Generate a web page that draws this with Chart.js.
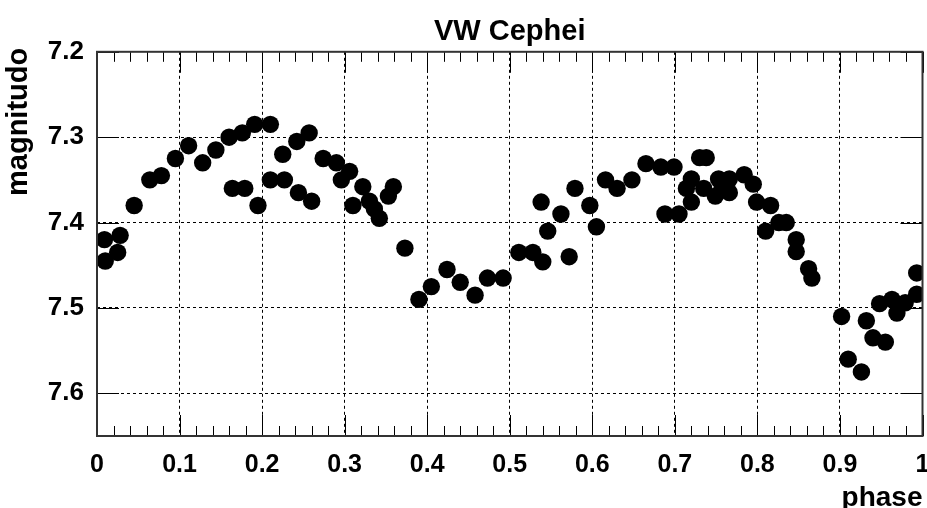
<!DOCTYPE html>
<html>
<head>
<meta charset="utf-8">
<script src="https://cdn.jsdelivr.net/npm/chart.js@4/dist/chart.umd.min.js"></script>
<style>
  html, body { margin: 0; padding: 0; background: #fff; }
  #wrap { width: 927px; height: 508px; }
</style>
</head>
<body>
<div id="wrap"><canvas id="lightCurve" width="927" height="508"></canvas></div>
<script>
// phase / magnitude
const phase = [
  0.009, 0.010, 0.025, 0.028, 0.045, 0.064, 0.078, 0.095, 0.111, 0.128,
  0.144, 0.160, 0.164, 0.176, 0.179, 0.191, 0.195, 0.210, 0.210, 0.225,
  0.227, 0.242, 0.244, 0.257, 0.260, 0.274, 0.290, 0.296, 0.306, 0.310,
  0.322, 0.330, 0.336, 0.342, 0.353, 0.359, 0.373, 0.390, 0.405, 0.424,
  0.440, 0.458, 0.473, 0.492, 0.511, 0.528, 0.538, 0.540, 0.546, 0.562,
  0.572, 0.579, 0.597, 0.605, 0.616, 0.630, 0.648, 0.665, 0.683, 0.688,
  0.699, 0.705, 0.714, 0.720, 0.720, 0.730, 0.738, 0.735, 0.749, 0.753,
  0.757, 0.766, 0.766, 0.784, 0.795, 0.799, 0.810, 0.816, 0.826, 0.835,
  0.847, 0.847, 0.862, 0.866, 0.902, 0.910, 0.926, 0.932, 0.940, 0.948,
  0.955, 0.963, 0.969, 0.979, 0.993, 0.993
];
const magnitude = [
  7.420, 7.445, 7.435, 7.415, 7.380, 7.350, 7.345, 7.325, 7.310, 7.330,
  7.315, 7.300, 7.360, 7.295, 7.360, 7.285, 7.380, 7.285, 7.350, 7.320,
  7.350, 7.305, 7.365, 7.295, 7.375, 7.325, 7.330, 7.350, 7.340, 7.380,
  7.358, 7.375, 7.384, 7.395, 7.369, 7.358, 7.430, 7.490, 7.475, 7.455,
  7.470, 7.485, 7.465, 7.465, 7.435, 7.435, 7.376, 7.446, 7.410, 7.390,
  7.440, 7.360, 7.380, 7.405, 7.350, 7.360, 7.350, 7.331, 7.335, 7.390,
  7.335, 7.390, 7.360, 7.349, 7.376, 7.324, 7.324, 7.360, 7.369, 7.349,
  7.361, 7.349, 7.365, 7.344, 7.355, 7.376, 7.410, 7.380, 7.400, 7.400,
  7.420, 7.434, 7.454, 7.465, 7.510, 7.560, 7.575, 7.515, 7.535, 7.495,
  7.540, 7.490, 7.506, 7.494, 7.484, 7.459
];
const xTicks = [0, 0.1, 0.2, 0.3, 0.4, 0.5, 0.6, 0.7, 0.8, 0.9, 1];
const xTickLabels = ['0', '0.1', '0.2', '0.3', '0.4', '0.5', '0.6', '0.7', '0.8', '0.9', '1'];
const yTicks = [7.2, 7.3, 7.4, 7.5, 7.6];
const yTickLabels = ['7.2', '7.3', '7.4', '7.5', '7.6'];
const xMinor = 0.02;
const yTitle = 'magnitudo';

const FONT = 'Liberation Sans, Arial, sans-serif';
const points = phase.map((p, i) => ({ x: p, y: magnitude[i] }));

// frame + inward tick marks, gnuplot style; y title drawn here because
// the reversed scale flips chart.js's title alignment
const frameTicks = {
  id: 'frameTicks',
  afterDraw(chart) {
    const c = chart.ctx, a = chart.chartArea;
    const xs = chart.scales.x, ys = chart.scales.y;
    c.save();
    c.strokeStyle = '#000';
    c.lineWidth = 1;
    c.beginPath();
    for (let k = 0; k <= 50; k++) {
      const v = k * xMinor;
      const px = Math.round(xs.getPixelForValue(v)) + 0.5;
      const len = (k % 5 === 0) ? 21 : 10;
      c.moveTo(px, a.bottom); c.lineTo(px, a.bottom - len);
      c.moveTo(px, a.top); c.lineTo(px, a.top + len);
    }
    yTicks.forEach(v => {
      const py = Math.round(ys.getPixelForValue(v)) + 0.5;
      c.moveTo(a.left, py); c.lineTo(a.left + 22, py);
      c.moveTo(a.right, py); c.lineTo(a.right - 22, py);
    });
    c.stroke();
    c.strokeStyle = '#333';
    c.lineWidth = 2;
    c.strokeRect(a.left, a.top, a.right - a.left, a.bottom - a.top);

    c.translate(19, a.top - 4);
    c.rotate(-Math.PI / 2);
    c.fillStyle = '#000';
    c.font = 'bold 29px ' + FONT;
    c.textAlign = 'right';
    c.textBaseline = 'middle';
    c.fillText(yTitle, 0, 0);
    c.restore();
  }
};

const ctx = document.getElementById('lightCurve').getContext('2d');
const lightChart = new Chart(ctx, {
  type: 'scatter',
  data: {
    datasets: [{
      label: 'VW Cephei',
      data: points,
      backgroundColor: '#000',
      borderWidth: 0,
      pointRadius: 8.7,
      pointHoverRadius: 8.7
    }]
  },
  options: {
    responsive: false,
    animation: false,
    layout: { autoPadding: false, padding: { left: 0, right: 4.5, top: 0, bottom: 0 } },
    plugins: {
      legend: { display: false },
      tooltip: { enabled: false },
      title: {
        display: true,
        text: 'VW Cephei',
        fullSize: false,
        color: '#000',
        font: { family: FONT, size: 29, weight: 'bold', lineHeight: 1.2 },
        padding: { top: 15, bottom: 2 }
      }
    },
    scales: {
      x: {
        type: 'linear',
        min: 0,
        max: 1,
        afterFit(scale) {
          scale.height = 72;
          scale.paddingLeft = 0;
          scale.paddingRight = 0;
        },
        afterBuildTicks(scale) { scale.ticks = xTicks.map(v => ({ value: v })); },
        grid: { color: '#000', lineWidth: 1, drawTicks: false },
        border: { display: false, dash: [3, 3] },
        ticks: {
          color: '#000',
          padding: 14,
          maxRotation: 0,
          autoSkip: false,
          font: { family: FONT, size: 25, weight: 'bold' },
          callback: (v, i) => xTickLabels[i]
        },
        title: {
          display: true,
          text: 'phase',
          align: 'end',
          color: '#000',
          font: { family: FONT, size: 28, weight: 'bold', lineHeight: 1 },
          padding: { top: 0, bottom: -4 }
        }
      },
      y: {
        type: 'linear',
        reverse: true,
        min: 7.2,
        max: 7.65,
        afterFit(scale) { scale.width = 97; },
        afterBuildTicks(scale) { scale.ticks = yTicks.map(v => ({ value: v })); },
        grid: { color: '#000', lineWidth: 1, drawTicks: false },
        border: { display: false, dash: [3, 3] },
        ticks: {
          color: '#000',
          padding: 13,
          font: { family: FONT, size: 26, weight: 'bold' },
          callback: (v, i) => yTickLabels[i]
        }
      }
    }
  },
  plugins: [frameTicks]
});
</script>
</body>
</html>
